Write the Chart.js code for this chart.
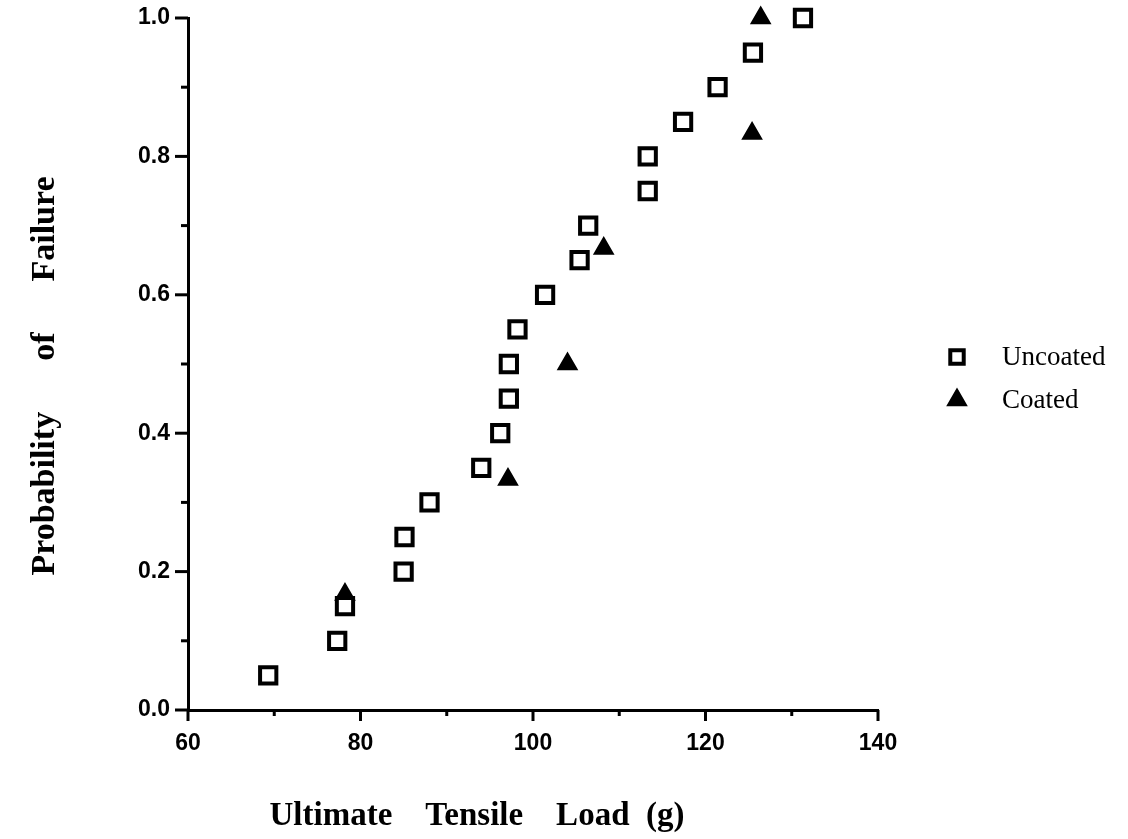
<!DOCTYPE html>
<html>
<head>
<meta charset="utf-8">
<title>Probability of Failure vs Ultimate Tensile Load</title>
<script src="https://cdn.jsdelivr.net/npm/chart.js@4/dist/chart.umd.min.js"></script>
<style>
  html, body { margin: 0; padding: 0; background: #fff; }
  #wrap { width: 1128px; height: 839px; }
</style>
</head>
<body>
<div id="wrap"><canvas id="c" width="1128" height="839"></canvas></div>
<script>
// Uncoated fibres: ultimate tensile load (g) and cumulative failure probability
const uncoatedLoad = [69.3, 77.3, 78.2, 85.0, 85.1, 88.0, 94.0, 96.2, 97.2, 97.2,
                      98.2, 101.4, 105.4, 106.4, 113.3, 113.3, 117.4, 121.4, 125.5, 131.3];
const uncoatedProb = [0.05, 0.10, 0.15, 0.20, 0.25, 0.30, 0.35, 0.40, 0.45, 0.50,
                      0.55, 0.60, 0.65, 0.70, 0.75, 0.80, 0.85, 0.90, 0.95, 1.00];

// Coated fibres
const coatedLoad = [78.2, 97.1, 104.0, 108.2, 125.4, 126.4];
const coatedProb = [0.167, 0.333, 0.500, 0.667, 0.833, 1.000];

// Axis ticks
const xMajorTicks = [60, 80, 100, 120, 140];
const xMinorTicks = [70, 90, 110, 130];
const yMajorTicks = [0.0, 0.2, 0.4, 0.6, 0.8, 1.0];
const yMinorTicks = [0.1, 0.3, 0.5, 0.7, 0.9];

const seriesNames = ['Uncoated', 'Coated'];
const xTitle = 'Ultimate    Tensile    Load  (g)';
const yTitle = 'Probability      of      Failure';

const toPoints = (xs, ys) => xs.map((x, i) => ({ x: x, y: ys[i] }));

// Outward tick marks (long for labelled values, short in between)
const tickMarks = {
  id: 'tickMarks',
  afterDraw(chart) {
    const { ctx, scales: { x, y } } = chart;
    ctx.save();
    ctx.strokeStyle = '#000';
    ctx.lineWidth = 3;
    ctx.lineCap = 'butt';
    const yEdge = y.right;
    const xEdge = x.top;
    const vTick = (v, len) => {
      const py = y.getPixelForValue(v);
      ctx.beginPath(); ctx.moveTo(yEdge - len, py); ctx.lineTo(yEdge, py); ctx.stroke();
    };
    const hTick = (v, len) => {
      const px = x.getPixelForValue(v);
      ctx.beginPath(); ctx.moveTo(px, xEdge); ctx.lineTo(px, xEdge + len); ctx.stroke();
    };
    yMajorTicks.forEach(v => vTick(v, 13));
    yMinorTicks.forEach(v => vTick(v, 7));
    xMajorTicks.forEach(v => hTick(v, 11));
    xMinorTicks.forEach(v => hTick(v, 6));
    ctx.restore();
  }
};

// Axis titles in bold serif
const axisTitles = {
  id: 'axisTitles',
  afterDraw(chart) {
    const { ctx } = chart;
    ctx.save();
    ctx.fillStyle = '#000';
    ctx.font = 'bold 33px "Liberation Serif", "Times New Roman", serif';
    ctx.textAlign = 'center';
    ctx.textBaseline = 'alphabetic';
    ctx.fillText(xTitle, 477, 825);
    ctx.font = 'bold 34px "Liberation Serif", "Times New Roman", serif';
    ctx.translate(54, 376);
    ctx.rotate(-Math.PI / 2);
    ctx.fillText(yTitle, 0, 0);
    ctx.restore();
  }
};

// Legend to the right of the plot, using each dataset's marker style
const sideLegend = {
  id: 'sideLegend',
  afterDraw(chart) {
    const { ctx } = chart;
    const rows = [
      { ds: 0, y: 357, radius: 9.5, borderWidth: 4 },
      { ds: 1, y: 400, radius: 10.5, borderWidth: 2 }
    ];
    ctx.save();
    rows.forEach(r => {
      const d = chart.data.datasets[r.ds];
      ctx.fillStyle = d.backgroundColor;
      ctx.strokeStyle = d.borderColor;
      ctx.lineWidth = r.borderWidth;
      Chart.helpers.drawPoint(ctx, {
        pointStyle: d.pointStyle, radius: r.radius, borderWidth: r.borderWidth, rotation: 0
      }, 957, r.y);
      ctx.fillStyle = '#000';
      ctx.font = '27px "Liberation Serif", "Times New Roman", serif';
      ctx.textAlign = 'left';
      ctx.textBaseline = 'middle';
      ctx.fillText(seriesNames[r.ds], 1002, r.y + 1);
    });
    ctx.restore();
  }
};

const tickFont = { family: '"Liberation Sans", Arial, sans-serif', size: 23, weight: 'bold' };

new Chart(document.getElementById('c'), {
  type: 'scatter',
  data: {
    datasets: [
      {
        label: seriesNames[0],
        data: toPoints(uncoatedLoad, uncoatedProb),
        pointStyle: 'rect',
        pointRadius: 11.5,
        pointBorderWidth: 4,
        borderColor: '#000',
        backgroundColor: '#fff',
        clip: false
      },
      {
        label: seriesNames[1],
        data: toPoints(coatedLoad, coatedProb),
        pointStyle: 'triangle',
        pointRadius: 10.5,
        pointBorderWidth: 2,
        borderColor: '#000',
        backgroundColor: '#000',
        clip: false
      }
    ]
  },
  options: {
    responsive: false,
    animation: false,
    events: [],
    layout: { autoPadding: false, padding: { top: 18, right: 250, bottom: 0, left: 0 } },
    plugins: {
      legend: { display: false },
      tooltip: { enabled: false },
      title: { display: false }
    },
    scales: {
      x: {
        type: 'linear',
        min: 60, max: 140,
        afterFit: s => { s.height = 129; },
        afterBuildTicks: s => { s.ticks = xMajorTicks.map(v => ({ value: v })); },
        grid: { display: false, drawTicks: false },
        border: { display: true, color: '#000', width: 3 },
        ticks: {
          color: '#000', font: tickFont, padding: 20,
          maxRotation: 0, autoSkip: false,
          callback: v => String(v)
        }
      },
      y: {
        type: 'linear',
        min: 0, max: 1,
        afterFit: s => { s.width = 188; s.paddingTop = 12; },
        afterBuildTicks: s => { s.ticks = yMajorTicks.map(v => ({ value: v })); },
        grid: { display: false, drawTicks: false },
        border: { display: true, color: '#000', width: 3 },
        ticks: {
          color: '#000', font: tickFont, padding: 18,
          autoSkip: false,
          callback: v => Number(v).toFixed(1)
        }
      }
    }
  },
  plugins: [tickMarks, axisTitles, sideLegend]
});
</script>
</body>
</html>
